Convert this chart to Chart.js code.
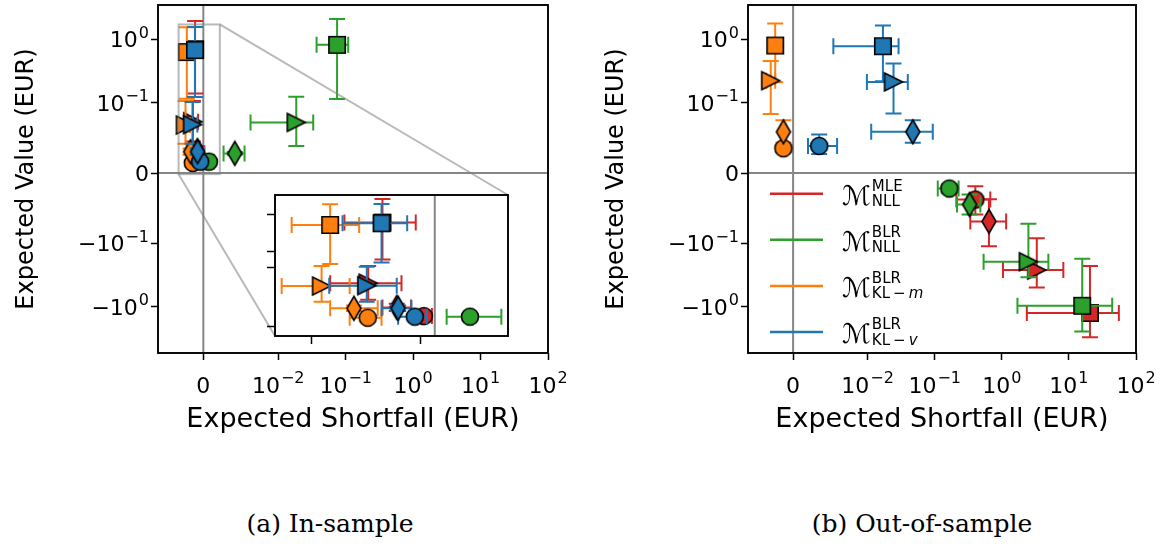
<!DOCTYPE html>
<html>
<head>
<meta charset="utf-8">
<script src="https://cdn.jsdelivr.net/npm/chart.js@4.4.1/dist/chart.umd.min.js"></script>
<style>
  body { margin: 0; background: #fff; width: 1172px; height: 549px; position: relative; overflow: hidden; }
  canvas { position: absolute; }
  .cap { position: absolute; top: 509px; width: 400px; text-align: center; font-family: 'DejaVu Serif'; font-size: 25px; color: #000; }
</style>
</head>
<body>
<canvas id="chartA" width="590" height="460" style="left:0px;top:0px"></canvas>
<canvas id="inset" width="253" height="161" style="left:265px;top:185px"></canvas>
<canvas id="chartB" width="582" height="460" style="left:590px;top:0px"></canvas>
<div class="cap" style="left:130px">(a) In-sample</div>
<div class="cap" style="left:722px">(b) Out-of-sample</div>

<script>
// marker per column, colour per row (model)
const shapes = ['circle', 'diamond', 'triangle', 'square'];
const modelNames = ['MLE NLL', 'BLR NLL', 'BLR KL-m', 'BLR KL-v'];
const modelColors = ['#d62728', '#2ca02c', '#ff7f0e', '#1f77b4'];
const legendSup = ['MLE', 'BLR', 'BLR', 'BLR'];
const legendSub = [
    [['NLL', false]],
    [['NLL', false]],
    [['KL', false], ['\u2009\u2212\u2009', false], ['m', true]],
    [['KL', false], ['\u2009\u2212\u2009', false], ['v', true]]
];

// ticks (base^exponent)
const xTickVals = [0, 0.01, 0.1, 1, 10, 100];
const xTickLabels = ['0', '10^\u22122', '10^\u22121', '10^0', '10^1', '10^2'];
const yTickVals = [-1, -0.1, 0, 0.1, 1];
const yTickLabels = ['\u221210^0', '\u221210^\u22121', '0', '10^\u22121', '10^0'];
const xRange = [-0.00605, 100];
const yRange = [-5.36, 3.49];

// in-sample: rows = models, cols = shapes
const inES   = [[-0.00023, -0.0008, -0.0014, -0.0011], [0.00074, 0.0042, 0.0185, 0.0745], [-0.00141, -0.0017, -0.00238, -0.0022], [-0.00042, -0.00077, -0.00143, -0.00112]];
const inESLo = [[-0.0004, -0.0011, -0.0022, -0.0019], [0.00025, 0.0027, 0.0063, 0.037], [-0.00179, -0.0022, -0.00322, -0.00301], [-0.00077, -0.00112, -0.00222, -0.00194]];
const inESHi = [[-0.00006, -0.0005, -0.0007, -0.0004], [0.0014, 0.0055, 0.033, 0.109], [-0.00112, -0.0012, -0.00179, -0.00159], [-0.00017, -0.00049, -0.0008, -0.00058]];
const inEV   = [[0.0172, 0.032, 0.073, 0.7], [0.0163, 0.028, 0.072, 0.82], [0.0145, 0.0304, 0.0683, 0.63], [0.0163, 0.0304, 0.0689, 0.678]];
const inEVLo = [[0.015, 0.026, 0.045, 0.14], [0.015, 0.026, 0.0386, 0.114], [0.012, 0.026, 0.0417, 0.116], [0.014, 0.026, 0.0417, 0.123]];
const inEVHi = [[0.0195, 0.038, 0.106, 1.95], [0.0176, 0.030, 0.124, 2.1], [0.017, 0.035, 0.106, 1.55], [0.019, 0.035, 0.103, 1.57]];

// out-of-sample
const outES   = [[0.403, 0.643, 3.32, 20.6], [0.165, 0.331, 2.49, 15.8], [-0.0013, -0.0013, -0.003, -0.0024], [0.0035, 0.0471, 0.0243, 0.0169]];
const outESLo = [[0.21, 0.339, 1.04, 2.36], [0.111, 0.215, 0.535, 1.71], [-0.0016, -0.0016, -0.0036, -0.003], [0.002, 0.0113, 0.0099, 0.0054]];
const outESHi = [[0.673, 1.16, 8.26, 55.5], [0.227, 0.478, 4.94, 44.2], [-0.001, -0.001, -0.0024, -0.0018], [0.0059, 0.0935, 0.0397, 0.0289]];
const outEV   = [[-0.0376, -0.0686, -0.263, -1.25], [-0.0219, -0.0447, -0.194, -0.964], [0.0353, 0.0586, 0.223, 0.8], [0.0386, 0.0586, 0.213, 0.78]];
const outEVLo = [[-0.059, -0.111, -0.497, -3.03], [-0.028, -0.059, -0.342, -2.45], [0.03, 0.043, 0.0839, 0.21], [0.027, 0.043, 0.0847, 0.218]];
const outEVHi = [[-0.0186, -0.037, -0.0924, -0.226], [-0.016, -0.0304, -0.0719, -0.174], [0.04, 0.075, 0.454, 1.78], [0.055, 0.075, 0.417, 1.66]];

// zoomed inset
const insetXRange = [-0.00336, 0.00154];
const insetYRange = [-0.0166, 2.32];
const insetXTicks = [-0.0026, -0.0003];
const insetYTicks = [0, 0.1, 0.2, 1];
const insetBoxX = [-0.0033, 0.0022];
const insetBoxY = [-0.0015, 1.72];

Chart.defaults.font.family = 'DejaVu Sans';
Chart.defaults.color = '#000';

// matplotlib-like symlog (base 10, linscale 1)
class SymlogScale extends Chart.LinearScale {
    static id = 'symlog';
    static defaults = Chart.LinearScale.defaults;

    linthresh() {
        return this.axis === 'x' ? 0.01 : 0.1;
    }
    tf(v) {
        const L = this.linthresh(), k = 1 / (1 - 1 / 10), a = Math.abs(v);
        return a <= L ? v / L * k : Math.sign(v) * (k + Math.log10(a / L));
    }
    itf(t) {
        const L = this.linthresh(), k = 1 / (1 - 1 / 10), a = Math.abs(t);
        return a <= k ? t / k * L : Math.sign(t) * L * Math.pow(10, a - k);
    }
    getPixelForValue(v) {
        const t0 = this.tf(this.min), t1 = this.tf(this.max);
        return this.getPixelForDecimal((this.tf(v) - t0) / (t1 - t0));
    }
    getValueForPixel(p) {
        const t0 = this.tf(this.min), t1 = this.tf(this.max);
        return this.itf(t0 + this.getDecimalForPixel(p) * (t1 - t0));
    }
}
Chart.register(SymlogScale);

const markerCache = {};
function markerImg(shape, color) {
    const key = shape + color;
    if (markerCache[key]) return markerCache[key];
    const c = document.createElement('canvas');
    c.width = 28; c.height = 28;
    const g = c.getContext('2d');
    const m = 14;
    g.fillStyle = color;
    g.strokeStyle = '#000';
    g.lineWidth = 1.6;
    g.beginPath();
    if (shape === 'circle') {
        g.arc(m, m, 8.5, 0, Math.PI * 2);
    } else if (shape === 'square') {
        g.rect(m - 8.2, m - 8.2, 16.4, 16.4);
    } else if (shape === 'triangle') {
        g.moveTo(m + 9, m); g.lineTo(m - 9, m - 9); g.lineTo(m - 9, m + 9); g.closePath();
    } else {
        g.moveTo(m, m - 12); g.lineTo(m + 7, m); g.lineTo(m, m + 12); g.lineTo(m - 7, m); g.closePath();
    }
    g.fill();
    g.stroke();
    markerCache[key] = c;
    return c;
}

function buildDatasets(es, esLo, esHi, ev, evLo, evHi) {
    return modelColors.map((col, m) => ({
        label: modelNames[m],
        data: shapes.map((s, k) => ({
            x: es[m][k], y: ev[m][k],
            xMin: esLo[m][k], xMax: esHi[m][k],
            yMin: evLo[m][k], yMax: evHi[m][k]
        })),
        pointStyle: shapes.map(s => markerImg(s, col)),
        errColor: col,
        showLine: false,
        order: modelColors.length - m
    }));
}

const errorBarPlugin = {
    id: 'errorBars',
    beforeDatasetDraw(chart, args) {
        const ds = chart.data.datasets[args.index];
        const xs = chart.scales.x, ys = chart.scales.y, c = chart.ctx, a = chart.chartArea;
        const cap = 8;
        c.save();
        c.beginPath();
        c.rect(a.left, a.top, a.right - a.left, a.bottom - a.top);
        c.clip();
        c.strokeStyle = ds.errColor;
        c.lineWidth = 2;
        ds.data.forEach(p => {
            const px = xs.getPixelForValue(p.x), py = ys.getPixelForValue(p.y);
            const xl = xs.getPixelForValue(p.xMin), xr = xs.getPixelForValue(p.xMax);
            const yt = ys.getPixelForValue(p.yMax), yb = ys.getPixelForValue(p.yMin);
            c.beginPath();
            c.moveTo(xl, py); c.lineTo(xr, py);
            c.moveTo(xl, py - cap); c.lineTo(xl, py + cap);
            c.moveTo(xr, py - cap); c.lineTo(xr, py + cap);
            c.moveTo(px, yt); c.lineTo(px, yb);
            c.moveTo(px - cap, yt); c.lineTo(px + cap, yt);
            c.moveTo(px - cap, yb); c.lineTo(px + cap, yb);
            c.stroke();
        });
        c.restore();
    }
};

// white axes background, zero lines, black frame
const framePlugin = {
    id: 'frame',
    beforeDraw(chart) {
        const a = chart.chartArea, c = chart.ctx;
        c.save();
        c.fillStyle = '#fff';
        c.fillRect(a.left, a.top, a.right - a.left, a.bottom - a.top);
        c.restore();
    },
    beforeDatasetsDraw(chart, args, opts) {
        const a = chart.chartArea, c = chart.ctx;
        c.save();
        c.strokeStyle = '#868686';
        c.lineWidth = 2;
        c.beginPath();
        if (opts.zeroX) {
            const x0 = chart.scales.x.getPixelForValue(0);
            c.moveTo(x0, a.top); c.lineTo(x0, a.bottom);
        }
        if (opts.zeroY) {
            const y0 = chart.scales.y.getPixelForValue(0);
            c.moveTo(a.left, y0); c.lineTo(a.right, y0);
        }
        c.stroke();
        c.restore();
    },
    afterDraw(chart) {
        const a = chart.chartArea, c = chart.ctx;
        c.save();
        c.strokeStyle = '#000';
        c.lineWidth = 1.9;
        c.strokeRect(a.left, a.top, a.right - a.left, a.bottom - a.top);
        c.restore();
    }
};

// tick labels with raised exponents, placed by the scales
function splitLabel(s) {
    const i = s.indexOf('^');
    return i < 0 ? [s, ''] : [s.slice(0, i), s.slice(i + 1)];
}
function drawPower(c, s, x, y, align) {
    const [base, exp] = splitLabel(s);
    c.font = '22px DejaVu Sans';
    const wb = c.measureText(base).width;
    c.font = '16px DejaVu Sans';
    const we = exp ? c.measureText(exp).width + 1 : 0;
    const w = wb + we;
    const x0 = align === 'center' ? x - w / 2 : x - w;
    c.font = '22px DejaVu Sans';
    c.fillText(base, x0, y);
    if (exp) {
        c.font = '16px DejaVu Sans';
        c.fillText(exp, x0 + wb + 1, y - 9.5);
    }
}
const tickLabelPlugin = {
    id: 'powerTicks',
    afterDraw(chart, args, opts) {
        if (!opts.show) return;
        const c = chart.ctx, a = chart.chartArea, xs = chart.scales.x, ys = chart.scales.y;
        c.save();
        c.fillStyle = '#000';
        c.textAlign = 'left';
        c.textBaseline = 'alphabetic';
        xTickVals.forEach((v, i) => drawPower(c, xTickLabels[i], xs.getPixelForValue(v), a.bottom + 39.5, 'center'));
        yTickVals.forEach((v, i) => drawPower(c, yTickLabels[i], a.left - 9, ys.getPixelForValue(v) + 8, 'right'));
        c.restore();
    }
};

const legendPlugin = {
    id: 'mathLegend',
    afterDraw(chart, args, opts) {
        if (!opts.show) return;
        const a = chart.chartArea, c = chart.ctx;
        c.save();
        c.textBaseline = 'alphabetic';
        c.textAlign = 'left';
        modelColors.forEach((col, i) => {
            const y = a.top + 188.7 + i * 46.1;
            const x0 = a.left + 22;
            c.strokeStyle = col;
            c.lineWidth = 2.5;
            c.beginPath();
            c.moveTo(x0, y); c.lineTo(x0 + 53, y);
            c.stroke();
            c.fillStyle = '#000';
            c.font = '27px DejaVu Sans';
            c.fillText('\u2133', x0 + 72, y + 11);
            const sx0 = x0 + 72 + c.measureText('\u2133').width + 1;
            c.font = '15px DejaVu Sans';
            c.fillText(legendSup[i], sx0, y - 3);
            let sx = sx0;
            legendSub[i].forEach(([t, it]) => {
                c.font = (it ? 'italic ' : '') + '15px DejaVu Sans';
                c.fillText(t, sx, y + 12.5);
                sx += c.measureText(t).width;
            });
        });
        c.restore();
    }
};

// box on the main axes plus connectors to the inset
let insetChart = null;
const insetBoxPlugin = {
    id: 'insetBox',
    afterDatasetsDraw(chart, args, opts) {
        if (!opts.show) return;
        const c = chart.ctx, xs = chart.scales.x, ys = chart.scales.y;
        const bx0 = xs.getPixelForValue(insetBoxX[0]), bx1 = xs.getPixelForValue(insetBoxX[1]);
        const by0 = ys.getPixelForValue(insetBoxY[0]), by1 = ys.getPixelForValue(insetBoxY[1]);
        c.save();
        c.strokeStyle = 'rgba(128,128,128,0.55)';
        c.lineWidth = 2;
        c.strokeRect(bx0, by1, bx1 - bx0, by0 - by1);
        if (insetChart) {
            const ia = insetChart.chartArea;
            const offX = 265, offY = 185;
            c.beginPath();
            c.moveTo(bx1, by1); c.lineTo(ia.right + offX, ia.top + offY);
            c.moveTo(bx0, by0); c.lineTo(ia.left + offX, ia.bottom + offY);
            c.stroke();
        }
        c.restore();
    }
};

function axisOpts(axis, vals, range, fixedSize, titleText, titleSize) {
    const o = {
        type: 'symlog',
        min: range[0],
        max: range[1],
        afterBuildTicks: s => { s.ticks = vals.map(v => ({ value: v })); },
        afterFit: s => {
            if (axis === 'x') s.height = fixedSize; else s.width = fixedSize;
            s.paddingTop = 0; s.paddingBottom = 0; s.paddingLeft = 0; s.paddingRight = 0;
        },
        border: { display: false },
        grid: { drawOnChartArea: false, drawTicks: true, tickLength: 7, tickColor: '#000', tickWidth: 1.5, color: 'rgba(0,0,0,0)' },
        ticks: { display: false, autoSkip: false, maxRotation: 0 },
        title: { display: !!titleText, text: titleText, font: { size: titleSize || 20 }, color: '#000' }
    };
    if (axis === 'x') o.title.padding = { top: 0, bottom: 24 };
    else o.title.padding = { top: 12.5, bottom: 0 };
    return o;
}

function mainOptions(padRight, legend, box) {
    return {
        responsive: false,
        animation: false,
        events: [],
        layout: { padding: { top: 2, right: padRight, left: 0, bottom: 0 } },
        scales: {
            x: axisOpts('x', xTickVals, xRange, 107, 'Expected Shortfall (EUR)', 27),
            y: axisOpts('y', yTickVals, yRange, 158, 'Expected Value (EUR)', 24)
        },
        plugins: {
            legend: { display: false },
            tooltip: { enabled: false },
            frame: { zeroX: true, zeroY: true },
            powerTicks: { show: true },
            mathLegend: { show: legend },
            insetBox: { show: box }
        }
    };
}

const allPlugins = [framePlugin, errorBarPlugin, insetBoxPlugin, tickLabelPlugin, legendPlugin];

const chartA = new Chart(document.getElementById('chartA'), {
    type: 'scatter',
    data: { datasets: buildDatasets(inES, inESLo, inESHi, inEV, inEVLo, inEVHi) },
    options: mainOptions(42, false, true),
    plugins: allPlugins
});

const insetX = axisOpts('x', insetXTicks, insetXRange, 10, '');
const insetY = axisOpts('y', insetYTicks, insetYRange, 10, '');
insetX.grid.tickLength = 8;
insetY.grid.tickLength = 8;
insetChart = new Chart(document.getElementById('inset'), {
    type: 'scatter',
    data: { datasets: buildDatasets(inES, inESLo, inESHi, inEV, inEVLo, inEVHi) },
    options: {
        responsive: false,
        animation: false,
        events: [],
        layout: { padding: { top: 10, right: 10, left: 0, bottom: 0 } },
        scales: { x: insetX, y: insetY },
        plugins: {
            legend: { display: false },
            tooltip: { enabled: false },
            frame: { zeroX: true, zeroY: false },
            powerTicks: { show: false },
            mathLegend: { show: false },
            insetBox: { show: false }
        }
    },
    plugins: allPlugins
});
chartA.draw();

const chartB = new Chart(document.getElementById('chartB'), {
    type: 'scatter',
    data: { datasets: buildDatasets(outES, outESLo, outESHi, outEV, outEVLo, outEVHi) },
    options: mainOptions(36, true, false),
    plugins: allPlugins
});
</script>
</body>
</html>
